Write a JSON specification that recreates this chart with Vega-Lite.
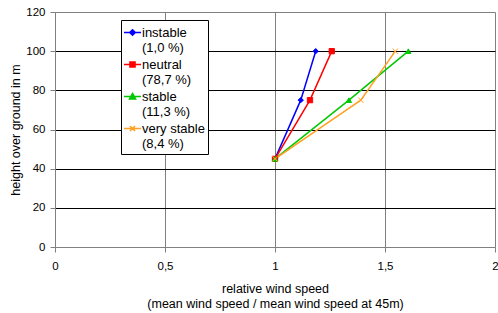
{
  "$schema": "https://vega.github.io/schema/vega-lite/v6.json",
  "width": 440,
  "height": 235,
  "autosize": {"type": "none"},
  "padding": {"left": 55, "top": 12, "right": 3, "bottom": 66},
  "background": "white",
  "config": {
    "view": {"stroke": "#808080", "strokeWidth": 1},
    "font": "Liberation Sans",
    "axis": {
      "labelFont": "Liberation Sans",
      "labelFontSize": 11.5,
      "labelColor": "#000",
      "titleFont": "Liberation Sans",
      "titleFontSize": 12.5,
      "titleFontWeight": "normal",
      "titleColor": "#000",
      "domainColor": "#808080",
      "tickColor": "#808080",
      "tickSize": 5,
      "labelOverlap": false
    }
  },
  "data": {
    "values": [
      {"series": "instable", "x": 1.0, "y": 45},
      {"series": "instable", "x": 1.117, "y": 75},
      {"series": "instable", "x": 1.185, "y": 100},
      {"series": "neutral", "x": 1.0, "y": 45},
      {"series": "neutral", "x": 1.159, "y": 75},
      {"series": "neutral", "x": 1.258, "y": 100},
      {"series": "stable", "x": 1.0, "y": 45},
      {"series": "stable", "x": 1.336, "y": 75},
      {"series": "stable", "x": 1.606, "y": 100},
      {"series": "very stable", "x": 1.0, "y": 45},
      {"series": "very stable", "x": 1.39, "y": 75},
      {"series": "very stable", "x": 1.547, "y": 100}
    ]
  },
  "encoding": {
    "x": {
      "field": "x",
      "type": "quantitative",
      "scale": {"domain": [0, 2], "nice": false},
      "axis": {
        "title": ["relative wind speed", "(mean wind speed / mean wind speed at 45m)"],
        "titleLineHeight": 15,
        "values": [0, 0.5, 1, 1.5, 2],
        "labelExpr": "replace(toString(datum.value), '.', ',')",
        "labelFlush": false,
        "labelPadding": 8,
        "titlePadding": 11,
        "grid": true,
        "gridColor": "#808080",
        "gridOpacity": {"condition": {"test": "datum.value == 0 || datum.value == 2", "value": 0}, "value": 1}
      }
    },
    "y": {
      "field": "y",
      "type": "quantitative",
      "scale": {"domain": [0, 120], "nice": false},
      "axis": {
        "title": "height over ground in m",
        "values": [0, 20, 40, 60, 80, 100, 120],
        "labelPadding": 5,
        "titlePadding": 3,
        "grid": true,
        "gridColor": "#000",
        "gridOpacity": {"condition": {"test": "datum.value == 0 || datum.value == 120", "value": 0}, "value": 1}
      }
    }
  },
  "layer": [
    {
      "mark": {"type": "line", "strokeWidth": 1.5},
      "encoding": {
        "color": {
          "field": "series",
          "type": "nominal",
          "scale": {
            "domain": ["instable", "neutral", "stable", "very stable"],
            "range": ["#0000FF", "#FF0000", "#00C800", "#FFA020"]
          },
          "legend": null
        }
      }
    },
    {
      "mark": {"type": "point", "filled": true, "size": 28, "strokeWidth": 1, "opacity": 1},
      "encoding": {
        "fill": {
          "condition": [
            {"test": "datum.series == 'instable'", "value": "#0000FF"},
            {"test": "datum.series == 'neutral'", "value": "#FF0000"},
            {"test": "datum.series == 'stable'", "value": "#00C800"}
          ],
          "value": "#FFA020"
        },
        "stroke": {
          "condition": [
            {"test": "datum.series == 'instable'", "value": "#0000FF"},
            {"test": "datum.series == 'neutral'", "value": "#FF0000"},
            {"test": "datum.series == 'stable'", "value": "#00C800"}
          ],
          "value": "#FFA020"
        },
        "shape": {
          "condition": [
            {"test": "datum.series == 'instable'", "value": "diamond"},
            {"test": "datum.series == 'neutral'", "value": "square"},
            {"test": "datum.series == 'stable'", "value": "triangle-up"}
          ],
          "value": "M-1,-1L1,1M-1,1L1,-1"
        }
      }
    },
    {
      "mark": {"type": "point", "filled": true, "size": 289, "strokeWidth": 1.5, "opacity": 0},
      "encoding": {
        "fill": {
          "field": "series",
          "type": "nominal",
          "scale": {"range": ["#0000FF", "#FF0000", "#00C800", "#FFA020"]},
          "legend": {
            "title": null, "orient": "none", "legendX": 66, "legendY": 8,
            "symbolSize": 289, "symbolStrokeWidth": 1.5, "symbolOpacity": 1, "symbolOffset": -1,
            "symbolFillColor": "#000",
            "labelExpr": "datum.label == 'instable' ? ['instable', '(1,0 %)'] : datum.label == 'neutral' ? [' neutral', '(78,7 %)'] : datum.label == 'stable' ? ['stable', '(11,3 %)'] : ['very stable', '(8,4 %)']",
            "labelFont": "Liberation Sans", "labelFontSize": 13, "labelColor": "#000", "labelOffset": 0,
            "fillColor": "white", "strokeColor": "#000", "padding": 3, "rowPadding": 0
          }
        },
        "stroke": {
          "field": "series",
          "type": "nominal",
          "scale": {"range": ["#0000FF", "#FF0000", "#00C800", "#FFA020"]},
          "legend": {
            "title": null, "orient": "none", "legendX": 66, "legendY": 8,
            "symbolSize": 289, "symbolStrokeWidth": 1.5, "symbolOpacity": 1, "symbolOffset": -1,
            "symbolFillColor": "#000",
            "labelExpr": "datum.label == 'instable' ? ['instable', '(1,0 %)'] : datum.label == 'neutral' ? [' neutral', '(78,7 %)'] : datum.label == 'stable' ? ['stable', '(11,3 %)'] : ['very stable', '(8,4 %)']",
            "labelFont": "Liberation Sans", "labelFontSize": 13, "labelColor": "#000", "labelOffset": 0,
            "fillColor": "white", "strokeColor": "#000", "padding": 3, "rowPadding": 0
          }
        },
        "shape": {
          "field": "series",
          "type": "nominal",
          "scale": {
            "range": [
              "M-1,0L1,0M-0.33,0L0,-0.33L0.33,0L0,0.33Z",
              "M-1,0L1,0M-0.3,-0.3L0.3,-0.3L0.3,0.3L-0.3,0.3Z",
              "M-1,0L1,0M0,-0.36L0.36,0.28L-0.36,0.28Z",
              "M-1,0L1,0M-0.3,-0.3L0.3,0.3M-0.3,0.3L0.3,-0.3"
            ]
          },
          "legend": {
            "title": null, "orient": "none", "legendX": 66, "legendY": 8,
            "symbolSize": 289, "symbolStrokeWidth": 1.5, "symbolOpacity": 1, "symbolOffset": -1,
            "symbolFillColor": "#000",
            "labelExpr": "datum.label == 'instable' ? ['instable', '(1,0 %)'] : datum.label == 'neutral' ? [' neutral', '(78,7 %)'] : datum.label == 'stable' ? ['stable', '(11,3 %)'] : ['very stable', '(8,4 %)']",
            "labelFont": "Liberation Sans", "labelFontSize": 13, "labelColor": "#000", "labelOffset": 0,
            "fillColor": "white", "strokeColor": "#000", "padding": 3, "rowPadding": 0
          }
        }
      }
    }
  ]
}
